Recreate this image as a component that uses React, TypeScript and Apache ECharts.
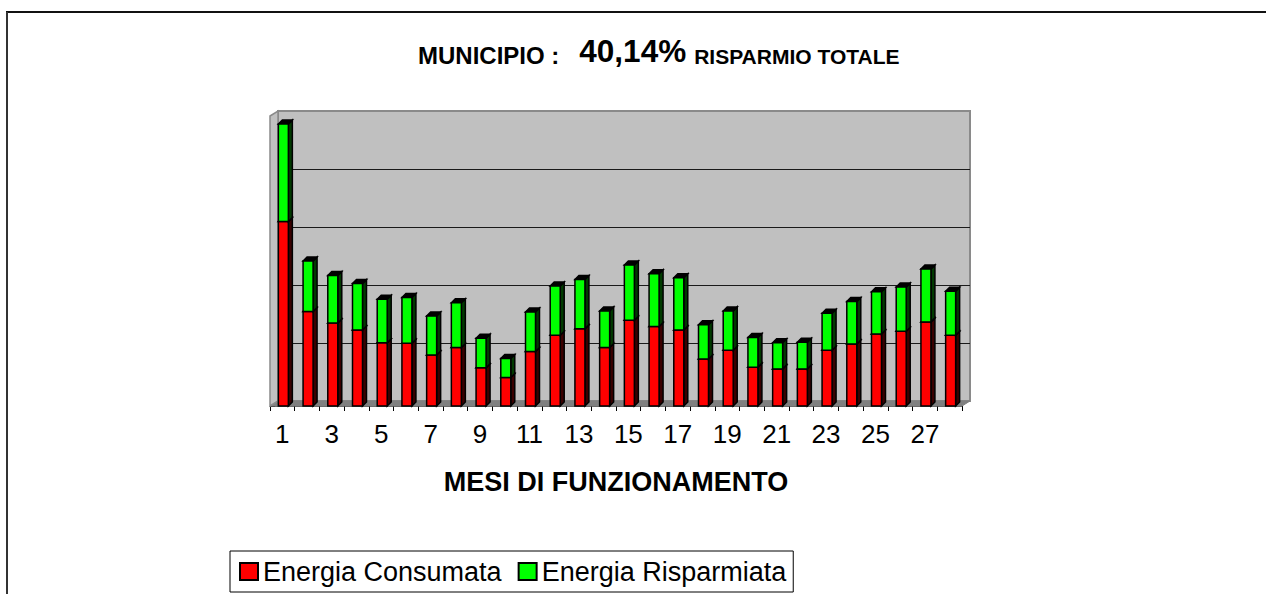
import React, { useEffect, useRef } from "react";
import * as echarts from "echarts";

const mesi = ["1","2","3","4","5","6","7","8","9","10","11","12","13","14","15","16","17","18","19","20","21","22","23","24","25","26","27","28"];
const energiaConsumata = [3.18,1.63,1.43,1.31,1.09,1.08,0.88,1.01,0.66,0.49,0.94,1.22,1.33,1.01,1.48,1.37,1.31,0.81,0.96,0.67,0.64,0.64,0.96,1.07,1.24,1.29,1.45,1.22];
const energiaRisparmiata = [1.68,0.87,0.82,0.80,0.75,0.79,0.67,0.77,0.51,0.33,0.68,0.85,0.85,0.63,0.95,0.91,0.90,0.59,0.68,0.51,0.45,0.46,0.64,0.73,0.73,0.76,0.91,0.76];
const yMin = 0;
const yMax = 5;
const yStep = 1;

const FONT = "'Liberation Sans', Arial, sans-serif";

function makeRender(front: string, side: string) {
  return (params: any, api: any) => {
    const i = api.value(0);
    const lo = api.value(1);
    const hi = api.value(2);
    const b = api.coord([i, lo]);
    const t = api.coord([i, hi]);
    const cx = b[0] + 1;
    const hw = 5;
    const dx = 4;
    const dy = 4;
    return {
      type: "group",
      children: [
        {
          type: "polygon",
          shape: { points: [[cx + hw, b[1]], [cx + hw + dx, b[1] - dy], [cx + hw + dx, t[1] - dy], [cx + hw, t[1]]] },
          style: { fill: side, stroke: "#000", lineWidth: 1.5 },
        },
        {
          type: "polygon",
          shape: { points: [[cx - hw, t[1]], [cx + hw, t[1]], [cx + hw + dx, t[1] - dy], [cx - hw + dx, t[1] - dy]] },
          style: { fill: "#000", stroke: "#000", lineWidth: 1.5 },
        },
        {
          type: "rect",
          shape: { x: cx - hw, y: t[1], width: 2 * hw, height: b[1] - t[1] },
          style: { fill: front, stroke: "#000", lineWidth: 1.5 },
        },
      ],
    };
  };
}

export default function App() {
  const ref = useRef<HTMLDivElement>(null);
  useEffect(() => {
    if (!ref.current) return;
    const chart = echarts.init(ref.current, undefined, { renderer: "svg" });
    const redData = mesi.map((_, i) => [i, 0, energiaConsumata[i]]);
    const greenData = mesi.map((_, i) => [i, energiaConsumata[i], energiaConsumata[i] + energiaRisparmiata[i]]);
    const option: any = {
      animation: false,
      backgroundColor: "#fff",
      title: {
        text: "{a|MUNICIPIO :}{b|40,14%}{c|RISPARMIO TOTALE}",
        left: 418,
        top: 36,
        padding: 0,
        textStyle: {
          rich: {
            a: { fontFamily: FONT, fontWeight: "bold", fontSize: 24, lineHeight: 24, verticalAlign: "bottom", color: "#000" },
            b: { fontFamily: FONT, fontWeight: "bold", fontSize: 31.5, lineHeight: 31, verticalAlign: "bottom", color: "#000", padding: [0, 0, 0, 20] },
            c: { fontFamily: FONT, fontWeight: "bold", fontSize: 21, lineHeight: 21, verticalAlign: "bottom", color: "#000", padding: [0, 0, 0, 8] },
          },
        },
      },
      legend: {
        left: 230,
        top: 551,
        padding: [7, 7, 7, 9],
        borderColor: "#000",
        borderWidth: 1,
        itemWidth: 18,
        itemHeight: 17,
        itemGap: 16,
        icon: "rect",
        itemStyle: { borderColor: "#000", borderWidth: 2 },
        textStyle: { fontFamily: FONT, fontSize: 27, lineHeight: 26, color: "#000" },
        data: ["Energia Consumata", "Energia Risparmiata"],
      },
      grid: [
        {
          left: 278, top: 111, width: 692, height: 290,
          show: true, backgroundColor: "#c0c0c0", borderColor: "#8a8a8a", borderWidth: 2,
        },
        { left: 270, top: 116, width: 692, height: 290 },
      ],
      xAxis: [
        { gridIndex: 0, type: "category", data: mesi, show: false },
        {
          gridIndex: 1,
          type: "category",
          data: mesi,
          boundaryGap: true,
          axisLine: { show: true, lineStyle: { color: "#555", width: 1 } },
          axisTick: { show: true, interval: 0, length: 5, lineStyle: { color: "#000" } },
          axisLabel: { interval: 1, fontFamily: FONT, fontSize: 26, color: "#000", margin: 15 },
          name: "MESI DI FUNZIONAMENTO",
          nameLocation: "middle",
          nameGap: 62,
          nameTextStyle: { fontFamily: FONT, fontSize: 27, fontWeight: "bold", color: "#000" },
        },
      ],
      yAxis: [
        {
          gridIndex: 0, type: "value", min: yMin, max: yMax, interval: yStep,
          axisLine: { show: false }, axisTick: { show: false }, axisLabel: { show: false },
          splitLine: { show: true, showMinLine: false, showMaxLine: false, lineStyle: { color: "#1a1a1a", width: 1 } },
        },
        {
          gridIndex: 1, type: "value", min: yMin, max: yMax, interval: yStep,
          axisLine: { show: false },
          axisTick: { show: true, inside: true, length: 5, lineStyle: { color: "#222" } },
          axisLabel: { show: false },
          splitLine: { show: false },
        },
      ],
      graphic: [
        {
          type: "polygon", z: 1,
          shape: { points: [[270, 406], [962, 406], [970, 401], [278, 401]] },
          style: { fill: "#808080", stroke: "#808080", lineWidth: 1 },
        },
        {
          type: "polygon", z: 1,
          shape: { points: [[270, 116], [278, 111], [278, 401], [270, 406]] },
          style: { fill: "#c0c0c0", stroke: "#8a8a8a", lineWidth: 1.5 },
        },
        { type: "line", z: 5, shape: { x1: 6, y1: 12, x2: 1266, y2: 12 }, style: { stroke: "#111", lineWidth: 2 } },
        { type: "line", z: 5, shape: { x1: 7, y1: 12, x2: 7, y2: 594 }, style: { stroke: "#333", lineWidth: 2 } },
      ],
      series: [
        {
          name: "Energia Consumata",
          type: "custom",
          xAxisIndex: 1,
          yAxisIndex: 1,
          z: 3,
          itemStyle: { color: "#ff0000" },
          encode: { x: 0, y: [1, 2] },
          renderItem: makeRender("#ff0000", "#3a0000"),
          data: redData,
        },
        {
          name: "Energia Risparmiata",
          type: "custom",
          xAxisIndex: 1,
          yAxisIndex: 1,
          z: 4,
          itemStyle: { color: "#00ff00" },
          encode: { x: 0, y: [1, 2] },
          renderItem: makeRender("#00ff00", "#003a00"),
          data: greenData,
        },
      ],
    };
    chart.setOption(option);
    return () => chart.dispose();
  }, []);
  return <div ref={ref} style={{ position: "fixed", left: 0, top: 0, width: 1266, height: 594 }} />;
}
